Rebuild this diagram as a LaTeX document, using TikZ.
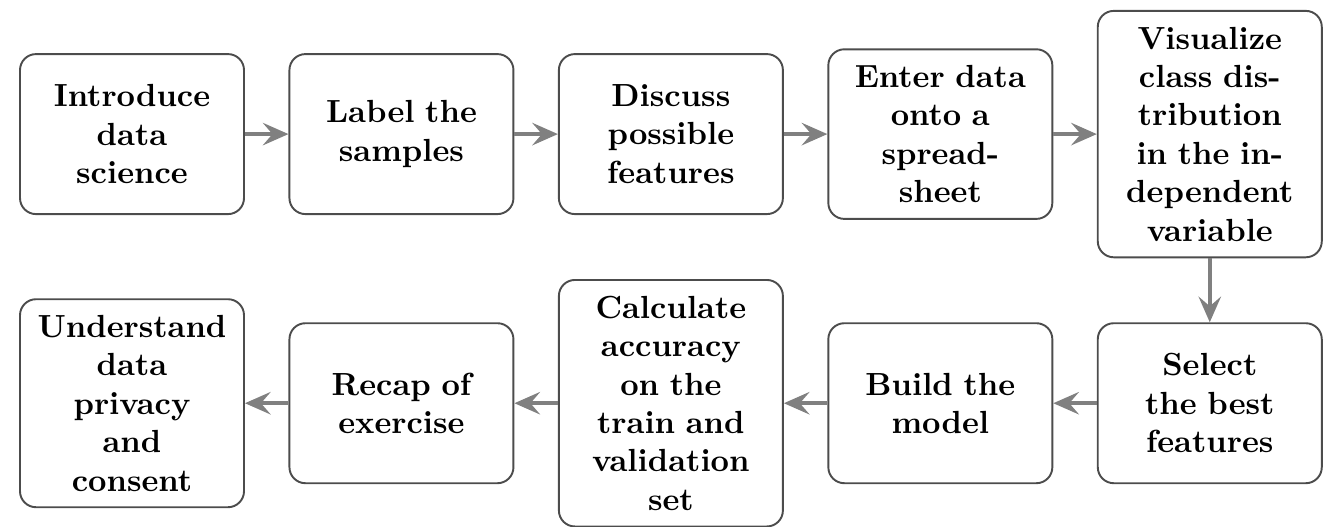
\documentclass[tikz,border=0pt]{standalone}
\usetikzlibrary{positioning, arrows.meta}
\tikzset{
  stepbox/.style={draw=black!70, semithick, rounded corners=5pt, text width=60pt,
    align=center, inner sep=5pt, minimum height=50pt, font=\bfseries},
  flow/.style={->, black!50, very thick},
}
\begin{document}
\begin{tikzpicture}[>={Stealth[length=8pt, width=7pt, inset=3pt]}, node distance=13.6pt]
  \useasboundingbox (-41.25pt,41.9pt) rectangle (375pt,-122.5pt);
  % top row
  \node[stepbox] (intro) at (0,0) {Introduce\\ data\\ science};
  \node[stepbox, right=of intro] (label) {Label the\\ samples};
  \node[stepbox, right=of label] (discuss) {Discuss\\ possible\\ features};
  \node[stepbox, right=of discuss] (enter) {Enter data\\ onto a\\ spread-\\ sheet};
  \node[stepbox, right=of enter] (visual) {Visualize\\ class dis-\\ tribution\\ in the in-\\ dependent\\ variable};
  % bottom row
  \node[stepbox, below=20pt of visual] (select) {Select\\ the best\\ features};
  \node[stepbox, left=of select] (build) {Build the\\ model};
  \node[stepbox, left=of build] (calc) {Calculate\\ accuracy\\ on the\\ train and\\ validation\\ set};
  \node[stepbox, left=of calc] (recap) {Recap of\\ exercise};
  \node[stepbox, left=of recap] (privacy) {Understand\\ data\\ privacy\\ and\\ consent};
  \draw[flow] (intro) -- (label);
  \draw[flow] (label) -- (discuss);
  \draw[flow] (discuss) -- (enter);
  \draw[flow] (enter) -- (visual);
  \draw[flow] (visual) -- (select);
  \draw[flow] (select) -- (build);
  \draw[flow] (build) -- (calc);
  \draw[flow] (calc) -- (recap);
  \draw[flow] (recap) -- (privacy);
\end{tikzpicture}
\end{document}
